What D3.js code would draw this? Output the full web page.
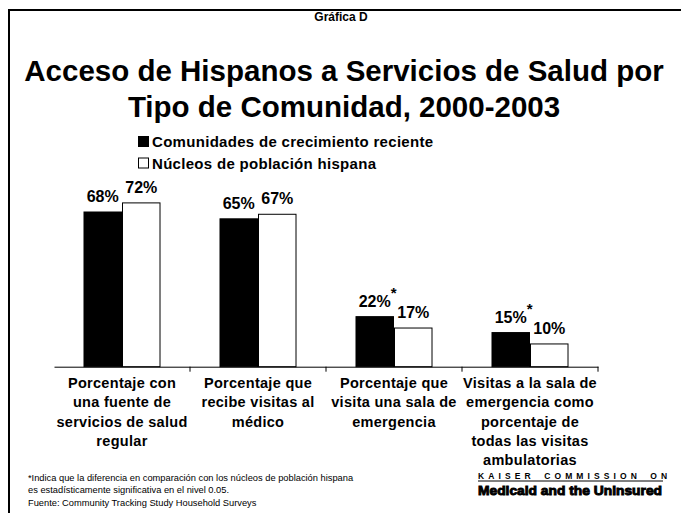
<!DOCTYPE html>
<html>
<head>
<meta charset="utf-8">
<script src="https://cdn.jsdelivr.net/npm/d3@7"></script>
<style>
  html, body { margin: 0; padding: 0; background: #fff; }
  svg { display: block; font-family: "Liberation Sans", Arial, sans-serif; }
</style>
</head>
<body>
<svg id="chart" width="681" height="513"></svg>
<script>
// Categories (each label split into its display lines)
const categories = [
  "Porcentaje con una fuente de servicios de salud regular",
  "Porcentaje que recibe visitas al médico",
  "Porcentaje que visita una sala de emergencia",
  "Visitas a la sala de emergencia como porcentaje de todas las visitas ambulatorias"
];
const categoryLines = [
  ["Porcentaje con", "una fuente de", "servicios de salud", "regular"],
  ["Porcentaje que", "recibe visitas al", "médico"],
  ["Porcentaje que", "visita una sala de", "emergencia"],
  ["Visitas a la sala de", "emergencia como", "porcentaje de", "todas las visitas", "ambulatorias"]
];
const seriesNames = ["Comunidades de crecimiento reciente", "Núcleos de población hispana"];
const recentGrowth = [68, 65, 22, 15];
const hispanicCenters = [72, 67, 17, 10];
const significant = [false, false, true, true];

const footnotes = [
  "*Indica que la diferencia en comparación con los núcleos de población hispana",
  "es estadísticamente significativa en el nivel 0.05.",
  "Fuente: Community Tracking Study Household Surveys"
];

const svg = d3.select("#chart");

// frame: top and left rules
svg.append("line").attr("x1", 9).attr("y1", 10).attr("x2", 681).attr("y2", 10)
  .attr("stroke", "#000").attr("stroke-width", 2);
svg.append("line").attr("x1", 9).attr("y1", 9).attr("x2", 9).attr("y2", 513)
  .attr("stroke", "#000").attr("stroke-width", 2);

// headings
svg.append("text").attr("x", 341).attr("y", 21).attr("text-anchor", "middle")
  .attr("font-size", 12).attr("font-weight", "bold").text("Gráfica D");
svg.append("text").attr("x", 344).attr("y", 81).attr("text-anchor", "middle")
  .attr("font-size", 29.5).attr("font-weight", "bold")
  .text("Acceso de Hispanos a Servicios de Salud por");
svg.append("text").attr("x", 344).attr("y", 117).attr("text-anchor", "middle")
  .attr("font-size", 29.5).attr("font-weight", "bold")
  .text("Tipo de Comunidad, 2000-2003");

// legend
const fills = ["#000", "#fff"];
const legend = svg.append("g");
seriesNames.forEach((name, i) => {
  const y = 136 + i * 21.5;
  legend.append("rect").attr("x", 138.5).attr("y", y + 0.5).attr("width", 10).attr("height", 10)
    .attr("fill", fills[i]).attr("stroke", "#000").attr("stroke-width", 1);
  legend.append("text").attr("x", 152).attr("y", y + 11)
    .attr("font-size", 15).attr("font-weight", "bold").attr("letter-spacing", 0.3).text(name);
});

// scales
const x0 = d3.scaleBand().domain(categories).range([54, 598]).paddingInner(0).paddingOuter(0);
const x1 = d3.scaleBand().domain(seriesNames).range([0, x0.bandwidth()]).paddingInner(0).paddingOuter(0.766);
const y = d3.scaleLinear().domain([0, 100]).range([366.7, 139.2]);

// bars
const rows = categories.map((c, i) => ({
  cat: c, values: [recentGrowth[i], hispanicCenters[i]], sig: significant[i]
}));

const groups = svg.append("g").selectAll("g").data(rows).join("g")
  .attr("transform", d => `translate(${x0(d.cat)},0)`);

groups.selectAll("rect").data(d => d.values.map((v, j) => ({ v, j })))
  .join("rect")
  .attr("x", d => x1(seriesNames[d.j]) + 0.5)
  .attr("y", d => y(d.v))
  .attr("width", x1.bandwidth() - 1)
  .attr("height", d => y(0) - y(d.v))
  .attr("fill", d => fills[d.j])
  .attr("stroke", "#000").attr("stroke-width", 1);

// value labels
groups.each(function(d) {
  const g = d3.select(this);
  d.values.forEach((v, j) => {
    const cx = x1(seriesNames[j]) + x1.bandwidth() / 2;
    g.append("text").attr("x", cx).attr("y", y(v) - 10)
      .attr("text-anchor", "middle").attr("font-size", 16).attr("font-weight", "bold")
      .text(v + "%");
    if (j === 0 && d.sig) {
      g.append("text").attr("x", cx + 16).attr("y", y(v) - 19)
        .attr("font-size", 15).attr("font-weight", "bold").text("*");
    }
  });
});

// category axis
const axis = svg.append("g").attr("transform", `translate(0,${y(0)})`)
  .call(d3.axisBottom(x0).tickValues([]).tickSizeOuter(0));
axis.select(".domain").attr("stroke", "#000");
const edges = categories.map(c => x0(c) + x0.bandwidth());
axis.selectAll("line.edge").data(edges).join("line")
  .attr("class", "edge").attr("x1", d => d).attr("x2", d => d)
  .attr("y1", 0).attr("y2", 5).attr("stroke", "#000");

// category labels
categories.forEach((c, i) => {
  const t = svg.append("text").attr("text-anchor", "middle")
    .attr("font-size", 14.5).attr("font-weight", "bold").attr("letter-spacing", 0.3);
  categoryLines[i].forEach((line, k) => {
    t.append("tspan").attr("x", x0(c) + x0.bandwidth() / 2).attr("y", 388 + k * 19.3).text(line);
  });
});

// notes
footnotes.forEach((line, k) => {
  svg.append("text").attr("x", 28).attr("y", 481 + k * 12.3)
    .attr("font-size", 9.3).text(line);
});

// publisher mark
svg.append("text").attr("x", 478).attr("y", 479)
  .attr("font-size", 8.5).attr("font-weight", "bold")
  .attr("letter-spacing", 4.1).attr("word-spacing", 3)
  .text("KAISER COMMISSION ON");
svg.append("line").attr("x1", 478).attr("x2", 663).attr("y1", 481).attr("y2", 481)
  .attr("stroke", "#000").attr("stroke-width", 1);
svg.append("text").attr("x", 570).attr("y", 495).attr("text-anchor", "middle")
  .attr("font-size", 12.5).attr("font-weight", "bold")
  .attr("stroke", "#000").attr("stroke-width", 0.9)
  .attr("textLength", 184).attr("lengthAdjust", "spacingAndGlyphs")
  .text("Medicaid and the Uninsured");
</script>
</body>
</html>
